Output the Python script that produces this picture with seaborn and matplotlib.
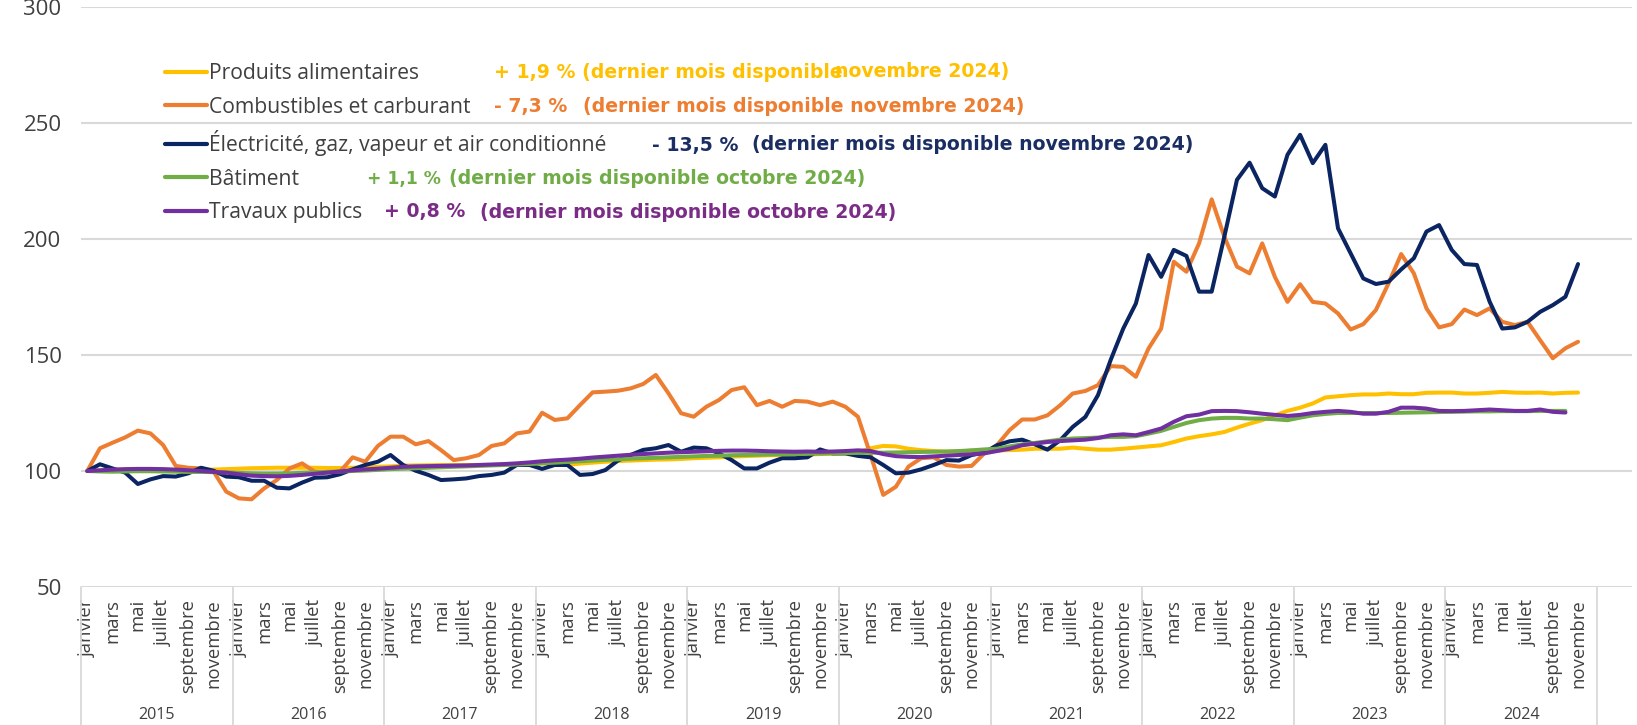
import numpy as np
import pandas as pd
import matplotlib
matplotlib.use("Agg")
import matplotlib.pyplot as plt
import seaborn as sns
from matplotlib import transforms

# ---------------- DATA ----------------
mois = ["janvier", "février", "mars", "avril", "mai", "juin", "juillet", "août",
        "septembre", "octobre", "novembre", "décembre"]
annees = [2015, 2016, 2017, 2018, 2019, 2020, 2021, 2022, 2023, 2024]

series = ["Produits alimentaires", "Combustibles et carburant",
          "Électricité, gaz, vapeur et air conditionné", "Bâtiment", "Travaux publics"]

# janvier 2015 -> novembre 2024
produits_alimentaires = [
    100.0, 100.2, 100.5, 100.6, 100.8, 100.8, 100.6, 100.4, 100.3, 100.5, 100.6, 100.8,
    101.0, 101.2, 101.3, 101.4, 101.4, 101.4, 101.4, 101.3, 101.3, 101.4, 101.6, 101.8,
    102.0, 102.3, 102.4, 102.5, 102.6, 102.6, 102.6, 102.6, 102.6, 102.7, 102.8, 103.0,
    103.3, 103.0, 102.6, 103.2, 103.6, 104.0, 104.3, 104.5, 104.7, 104.9, 105.0, 105.2,
    105.5, 105.7, 105.9, 106.2, 106.4, 106.6, 106.8, 106.9, 107.0, 107.1, 107.3, 107.5,
    107.6, 108.0, 109.8, 110.8, 110.6, 109.6, 109.0, 108.6, 108.3, 108.4, 108.8, 108.9,
    108.9, 109.0, 109.2, 109.6, 109.6, 109.6, 110.1, 109.6, 109.2, 109.2, 109.6, 110.1,
    110.6, 111.1, 112.5, 114.0, 115.0, 115.8, 116.8, 118.7, 120.4, 121.9, 124.0, 125.9,
    127.3, 129.1, 131.7, 132.2, 132.7, 133.0, 133.0, 133.4, 133.1, 133.1, 133.7, 133.8,
    133.8, 133.4, 133.4, 133.7, 134.1, 133.8, 133.7, 133.8, 133.4, 133.7, 133.8,
]
combustibles = [
    100.0, 109.8, 112.2, 114.5, 117.4, 116.2, 111.2, 102.2, 101.4, 101.1, 99.7, 91.1,
    88.2, 87.8, 92.5, 96.1, 101.1, 103.3, 99.7, 99.3, 99.7, 105.9, 104.0, 110.8,
    114.8, 114.8, 111.5, 112.9, 109.0, 104.7, 105.5, 106.9, 110.8, 111.9, 116.2, 117.0,
    125.1, 122.0, 122.7, 128.4, 133.9, 134.2, 134.6, 135.6, 137.5, 141.4, 133.5, 124.9,
    123.4, 127.7, 130.6, 134.9, 136.1, 128.4, 130.2, 127.7, 130.2, 129.9, 128.4, 129.9,
    127.7, 123.4, 106.9, 89.7, 93.2, 101.9, 105.5, 105.9, 102.6, 101.9, 102.2, 107.6,
    111.1, 117.6, 122.2, 122.2, 124.0, 128.3, 133.4, 134.5, 137.0, 145.2, 144.9, 140.6,
    152.8, 161.4, 190.2, 185.9, 198.1, 217.1, 201.0, 188.1, 185.2, 198.1, 183.7, 172.9,
    180.5, 172.9, 172.2, 167.9, 161.0, 163.3, 169.4, 180.9, 193.5, 185.2, 170.1, 161.9,
    163.3, 169.6, 167.2, 170.1, 164.3, 162.9, 164.3, 156.4, 148.6, 152.9, 155.7,
]
electricite = [
    100.0, 102.9, 101.1, 99.3, 94.4, 96.4, 97.8, 97.6, 99.0, 101.4, 100.1, 97.6,
    97.3, 95.8, 95.8, 92.8, 92.5, 95.0, 97.1, 97.3, 98.6, 100.7, 102.6, 104.0,
    106.9, 102.6, 100.1, 98.3, 96.1, 96.4, 96.8, 97.8, 98.3, 99.3, 102.6, 102.6,
    100.9, 102.6, 102.6, 98.3, 98.7, 100.4, 104.5, 106.9, 109.1, 109.8, 111.2, 108.3,
    110.1, 109.8, 107.6, 104.7, 101.1, 101.1, 103.6, 105.5, 105.5, 105.9, 109.3, 107.6,
    107.6, 106.5, 105.9, 102.6, 99.0, 99.3, 100.7, 102.6, 104.7, 104.5, 106.9, 107.9,
    111.1, 112.8, 113.5, 111.5, 109.2, 113.2, 119.0, 123.3, 132.7, 147.8, 161.4, 172.2,
    193.1, 183.7, 195.3, 192.7, 177.3, 177.3, 201.0, 225.5, 232.9, 221.9, 218.3, 236.3,
    244.9, 232.7, 240.6, 204.6, 193.8, 183.0, 180.6, 181.6, 186.9, 191.7, 203.2, 206.0,
    195.3, 189.2, 188.8, 173.0, 161.4, 161.9, 164.3, 168.6, 171.5, 175.1, 189.2,
]
# janvier 2015 -> octobre 2024
batiment = [
    100.0, 99.8, 99.7, 99.8, 99.9, 99.9, 99.8, 99.7, 99.6, 99.6, 99.5, 99.4,
    99.2, 99.0, 98.9, 98.9, 99.0, 99.2, 99.4, 99.6, 99.8, 100.0, 100.2, 100.5,
    100.8, 101.0, 101.2, 101.4, 101.6, 101.8, 102.0, 102.2, 102.4, 102.6, 102.8, 103.0,
    103.3, 103.6, 103.9, 104.2, 104.5, 104.8, 105.0, 105.3, 105.5, 105.7, 105.9, 106.1,
    106.3, 106.5, 106.6, 106.8, 106.9, 107.0, 107.1, 107.2, 107.3, 107.4, 107.5, 107.6,
    107.7, 107.8, 107.9, 107.9, 108.0, 108.1, 108.2, 108.3, 108.4, 108.6, 108.9, 109.3,
    109.6, 110.6, 111.5, 112.1, 112.8, 113.5, 114.0, 114.2, 114.4, 114.7, 114.7, 115.0,
    116.1, 117.3, 119.0, 120.7, 121.9, 122.6, 122.9, 122.9, 122.6, 122.6, 122.3, 121.9,
    123.0, 124.0, 124.6, 125.0, 125.0, 125.0, 125.0, 125.0, 125.1, 125.2, 125.3, 125.4,
    125.5, 125.6, 125.7, 125.7, 125.8, 125.8, 125.8, 125.9, 125.9, 125.9,
]
travaux_publics = [
    100.0, 100.3, 100.6, 100.8, 100.9, 100.9, 100.8, 100.6, 100.3, 100.0, 99.6, 99.3,
    98.6, 98.0, 97.8, 97.7, 97.9, 98.3, 98.8, 99.3, 99.8, 100.3, 100.7, 101.0,
    101.4, 101.8, 102.0, 102.1, 102.2, 102.3, 102.4, 102.6, 102.8, 103.0, 103.3, 103.7,
    104.2, 104.6, 104.9, 105.3, 105.8, 106.2, 106.6, 107.0, 107.3, 107.6, 107.9, 108.1,
    108.3, 108.5, 108.7, 108.8, 108.8, 108.7, 108.5, 108.4, 108.3, 108.4, 108.3, 108.4,
    108.6, 108.9, 108.6, 107.3, 106.4, 106.1, 106.0, 106.3, 106.6, 106.9, 107.2, 107.6,
    108.6, 109.6, 111.1, 111.8, 112.5, 112.9, 113.2, 113.5, 114.2, 115.4, 115.8, 115.4,
    116.8, 118.3, 121.2, 123.6, 124.3, 125.8, 125.9, 125.8, 125.3, 124.7, 124.2, 123.7,
    124.2, 125.0, 125.5, 125.9, 125.5, 124.7, 124.7, 125.5, 127.3, 127.3, 126.9, 125.9,
    125.8, 125.9, 126.2, 126.5, 126.2, 125.9, 125.9, 126.5, 125.5, 125.2,
]

annotations = [
    ["+ 1,9 % (dernier mois disponible", "novembre 2024)"],
    ["- 7,3 %", "(dernier mois disponible novembre 2024)"],
    ["- 13,5 %", "(dernier mois disponible novembre 2024)"],
    ["+ 1,1 %", "(dernier mois disponible octobre 2024)"],
    ["+ 0,8 %", "(dernier mois disponible octobre 2024)"],
]

# ---------------- STYLE ----------------
couleurs = ["#FFC000", "#ED7D31", "#0B2462", "#70AD47", "#7030A0"]
couleurs_texte = ["#FFC000", "#ED7D31", "#1B2E63", "#70AD47", "#7B2C86"]
gris_texte = "#404040"

sns.set_style("white")
plt.rcParams["font.family"] = ["Open Sans", "DejaVu Sans"]

W, H = 1637, 725
PX = 100 / 72  # pixels per point
fig = plt.figure(figsize=(W / 100, H / 100), dpi=100)
ax = fig.add_axes([81 / W, 138 / H, 1551 / W, 580 / H])

valeurs = [produits_alimentaires, combustibles, electricite, batiment, travaux_publics]
frames = []
for nom, vals in zip(series, valeurs):
    frames.append(pd.DataFrame({"idx": np.arange(len(vals)), "indice": vals, "serie": nom}))
df = pd.concat(frames, ignore_index=True)

sns.lineplot(data=df, x="idx", y="indice", hue="serie", hue_order=series,
             palette=couleurs, linewidth=2.9, estimator=None, sort=False, ax=ax)

ax.set_ylim(50, 300)
ax.set_xlim(-0.5, -0.5 + 1551 / (1516 / 120))
ax.set_yticks([50, 100, 150, 200, 250, 300])
ax.yaxis.grid(True, color="#D9D9D9", linewidth=1.5)
ax.xaxis.grid(False)
for s in ax.spines.values():
    s.set_visible(False)
ax.set_xlabel("")
ax.set_ylabel("")

renderer = fig.canvas.get_renderer()


def fit_size(text, target_px, **kw):
    t = fig.text(0, 0, text, fontsize=10, **kw)
    w = t.get_window_extent(renderer).width
    t.remove()
    return 10 * target_px / w


# y tick labels
fs_y = fit_size("250", 38)
ax.tick_params(axis="y", length=0, pad=14, labelsize=fs_y, labelcolor=gris_texte)

# month labels
n_mois = 12 * len(annees)
ticks = list(range(0, n_mois, 2))
ax.set_xticks(ticks)
fs_mois = fit_size("septembre", 94)
ax.set_xticklabels([mois[t % 12] for t in ticks], rotation=90, fontsize=fs_mois,
                   color=gris_texte, va="top", ha="center")
ax.tick_params(axis="x", length=0, pad=12 / PX)

# year labels and separators
fs_an = fit_size("2015", 37)
trans = transforms.blended_transform_factory(ax.transData, ax.transAxes)
for k, an in enumerate(annees):
    ax.text(12 * k + 5.5, -128 / 580, str(an), transform=trans, ha="center", va="center",
            fontsize=fs_an, color=gris_texte)
for k in range(len(annees) + 1):
    ax.plot([12 * k - 0.5, 12 * k - 0.5], [0, -140 / 580], transform=trans,
            color="#D9D9D9", linewidth=1.3, clip_on=False)

# legend
fs_leg = fit_size("Électricité, gaz, vapeur et air conditionné", 398)
fs_leg_px = fs_leg * PX
handles, labels = ax.get_legend_handles_labels()
cibles_y = [72, 106.7, 142, 176.7, 211]  # centres des lignes (pixels depuis le haut)
pas_cible = (cibles_y[-1] - cibles_y[0]) / 4


def make_legend(ls, ax_x, ax_y):
    lg = ax.legend(handles, labels, loc="upper left", bbox_to_anchor=(ax_x / W, 1 - ax_y / H),
                   bbox_transform=fig.transFigure, frameon=False, fontsize=fs_leg,
                   handlelength=42 / fs_leg_px, handletextpad=2 / fs_leg_px,
                   labelspacing=ls, borderpad=0, borderaxespad=0, labelcolor=gris_texte)
    for lh in lg.legend_handles:
        lh.set_linewidth(3.0)
    return lg


def mesure(lg):
    fig.canvas.draw()
    r = fig.canvas.get_renderer()
    bbs = [h.get_window_extent(r) for h in lg.legend_handles]
    ys = [H - (b.y0 + b.y1) / 2 for b in bbs]
    x0 = min(b.x0 for b in bbs)
    return ys, x0


ls = 0.5
leg = make_legend(ls, 165, 55)
ys, x0 = mesure(leg)
pas = (ys[-1] - ys[0]) / 4
ls = ls + (pas_cible - pas) / fs_leg_px
leg = make_legend(ls, 165, 55)
ys, x0 = mesure(leg)
leg = make_legend(ls, 165 + (165 - x0), 55 + (cibles_y[0] - ys[0]))

# annotations
fs_ann = fit_size("(dernier mois disponible novembre 2024)", 442,
                  family="DejaVu Sans", weight="bold")
positions = [
    [(494, 72), (835, 72)],
    [(494, 106.7), (583, 106.7)],
    [(652, 145), (752, 145)],
    [(367, 179), (449, 179)],
    [(384, 212), (480, 212)],
]
largeur_max = [None, 80, 92, 74, 88]  # largeur maximale (px) du premier fragment
for textes, pos, c, lmax in zip(annotations, positions, couleurs_texte, largeur_max):
    for j, (txt, (x, y)) in enumerate(zip(textes, pos)):
        fs = fs_ann
        if j == 0 and lmax is not None:
            fs = min(fs_ann, fit_size(txt, lmax, family="DejaVu Sans", weight="bold"))
        fig.text(x / W, 1 - y / H, txt, ha="left", va="center", fontsize=fs,
                 family="DejaVu Sans", weight="bold", color=c)

fig.savefig("out.png", dpi=100)
